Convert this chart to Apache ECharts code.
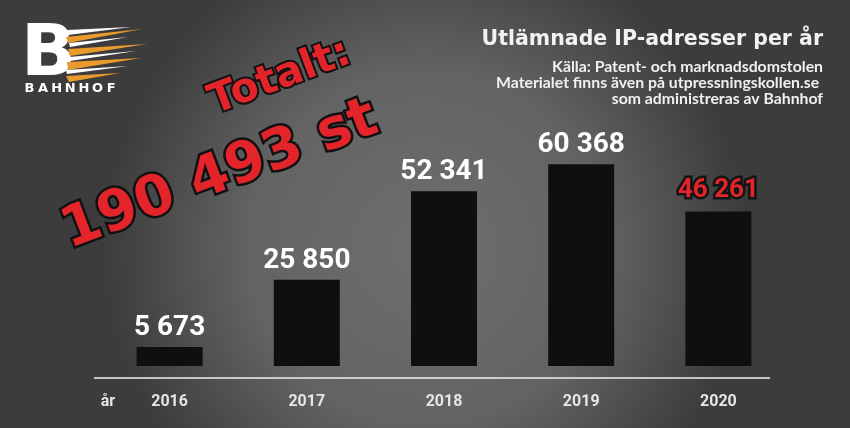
<!DOCTYPE html>
<html><head><meta charset="utf-8">
<script src="https://cdn.jsdelivr.net/npm/echarts@6/dist/echarts.min.js"></script>
<style>html,body{margin:0;padding:0;background:#444}#c{width:850px;height:428px}</style>
</head><body><div id="c"></div>
<script>
var categories = ['2016', '2017', '2018', '2019', '2020'];
var values = [5673, 25850, 52341, 60368, 46261];
var axisPrefix = 'år';
var titleText = 'Utlämnade IP-adresser per år';
var subtitleLines = ['Källa: Patent- och marknadsdomstolen', 'Materialet finns även på utpressningskollen.se ', 'som administreras av Bahnhof'];
var totalLabel = 'Totalt:';
var totalValue = '190 493 st';

function fmt(v) { return String(v).replace(/\B(?=(\d{3})+(?!\d))/g, ' '); }

var chart = echarts.init(document.getElementById('c'));

var barData = values.map(function (v, i) {
  var item = { value: v };
  if (i === values.length - 1) {
    item.label = { color: '#e3242b', textBorderColor: '#141414', textBorderWidth: 5, fontSize: 26, distance: 8 };
  }
  return item;
});

var streaks = [
  { c: '#ffffff', p: [[67,30],[68,35],[131,27]] },
  { c: '#e99a2c', p: [[66,37],[68,43],[142,29]] },
  { c: '#ffffff', p: [[69,43],[70,47],[128,37]] },
  { c: '#e99a2c', p: [[68,49],[70,56],[147,44]] },
  { c: '#ffffff', p: [[69,57],[70,61],[136,51]] },
  { c: '#e99a2c', p: [[67,62],[68,70],[141,58]] },
  { c: '#ffffff', p: [[66,70],[67,74],[128,66]] },
  { c: '#e99a2c', p: [[66,76],[69,82],[120,73]] }
];

var graphics = [];
graphics.push({ type: 'text', left: 21, top: 20, style: { text: 'B', fill: '#ffffff', font: 'bold 72px "DejaVu Sans"' } });
streaks.forEach(function (s) {
  graphics.push({ type: 'polygon', shape: { points: s.p }, style: { fill: s.c } });
});
'BAHNHOF'.split('').forEach(function (ch, i) {
  graphics.push({ type: 'text', x: 29.5 + i * 13.6, y: 89, style: { text: ch, fill: '#ffffff', font: 'bold 13px "DejaVu Sans"', align: 'center', verticalAlign: 'middle' } });
});
graphics.push({ type: 'text', x: 823, y: 40, style: { text: titleText, fill: '#f2f2f2', font: 'bold 20.5px "DejaVu Sans"', align: 'right', verticalAlign: 'middle' } });
subtitleLines.forEach(function (t, i) {
  graphics.push({ type: 'text', x: 823, y: 67 + i * 16, style: { text: t, fill: '#f0f0f0', font: 'bold 15.8px Lato', align: 'right', verticalAlign: 'middle' } });
});
graphics.push({ type: 'text', x: 280, y: 78, rotation: 0.36, style: { text: totalLabel, fill: '#e3242b', stroke: '#111111', lineWidth: 4, font: 'bold 41px "DejaVu Sans"', align: 'center', verticalAlign: 'middle' } });
graphics.push({ type: 'text', x: 220, y: 176, rotation: 0.36, style: { text: totalValue, fill: '#e3242b', stroke: '#111111', lineWidth: 5, font: 'bold 56px "DejaVu Sans"', align: 'center', verticalAlign: 'middle' } });
graphics.push({ type: 'line', shape: { x1: 94, y1: 378, x2: 770, y2: 378 }, style: { stroke: '#f0f0f0', lineWidth: 1.5 } });
graphics.push({ type: 'text', x: 108, y: 402, style: { text: axisPrefix, fill: '#e6e6e6', font: 'bold 16px Roboto', align: 'center', verticalAlign: 'middle' } });

chart.setOption({
  backgroundColor: { type: 'radial', x: 0.5, y: 0.58, r: 0.75, colorStops: [
    { offset: 0, color: '#6e6e6e' }, { offset: 0.55, color: '#636363' }, { offset: 1, color: '#3c3c3c' } ] },
  animation: false,
  grid: { left: 101, right: 63, top: 32, bottom: 62 },
  xAxis: {
    type: 'category', data: categories,
    axisLine: { show: false }, axisTick: { show: false },
    axisLabel: { color: '#e6e6e6', fontFamily: 'Roboto', fontWeight: 'bold', fontSize: 16, margin: 28 }
  },
  yAxis: { type: 'value', min: 0, max: 100000, show: false },
  series: [{
    type: 'bar', data: barData, barWidth: 66,
    itemStyle: { color: '#0f0f0f' },
    label: { show: true, position: 'top', distance: 5, color: '#ffffff', fontFamily: 'Roboto', fontWeight: 'bold', fontSize: 28,
      formatter: function (p) { return fmt(p.value); } }
  }],
  graphic: graphics
});
</script></body></html>
